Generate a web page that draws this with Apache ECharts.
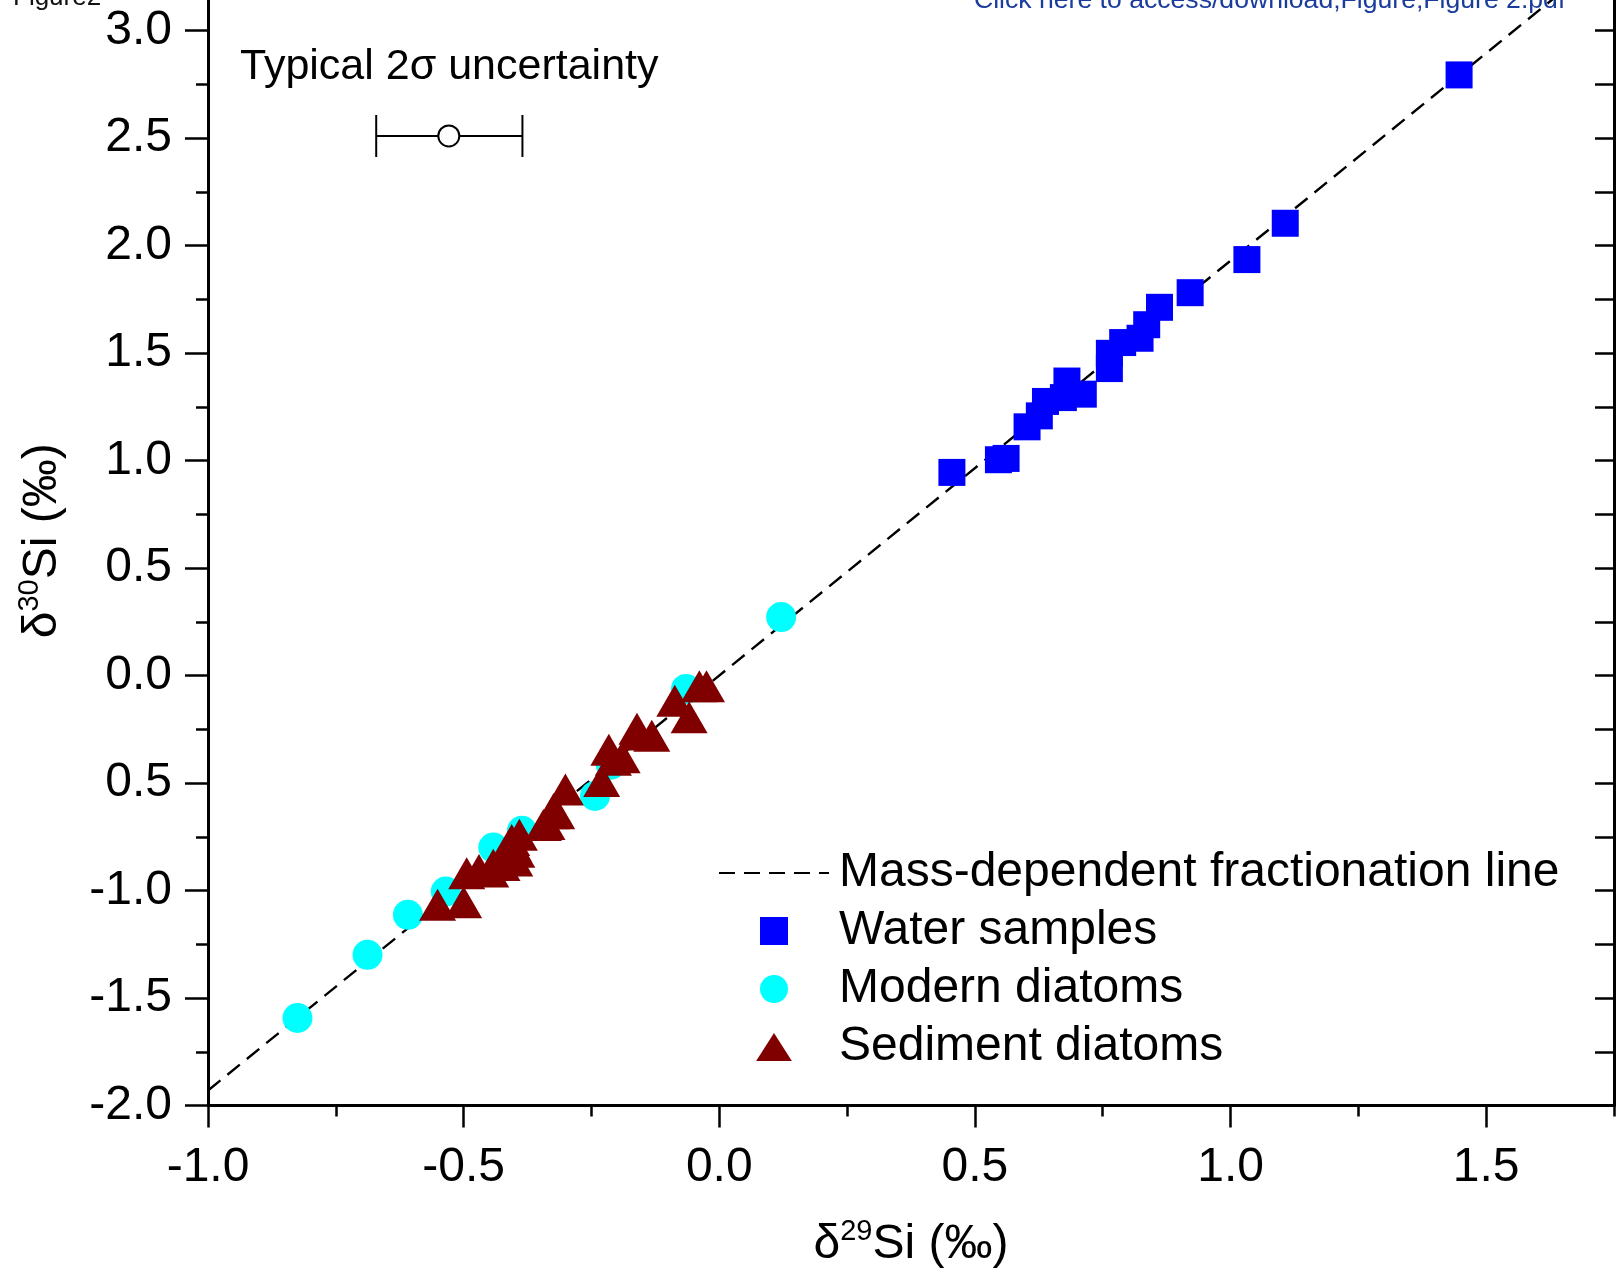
<!DOCTYPE html>
<html>
<head>
<meta charset="utf-8">
<script src="https://cdn.jsdelivr.net/npm/echarts@6/dist/echarts.min.js"></script>
<style>
html,body{margin:0;padding:0;background:#fff;}
#chart{width:1616px;height:1274px;}
</style>
</head>
<body>
<div id="chart"></div>
<script>
// ---- data ----
var waterSamples = [
  [0.455, 0.945], [0.546, 1.004], [0.561, 1.010], [0.602, 1.157], [0.626, 1.208],
  [0.638, 1.275], [0.673, 1.293], [0.680, 1.370], [0.712, 1.309], [0.763, 1.428],
  [0.763, 1.499], [0.789, 1.549], [0.823, 1.569], [0.836, 1.632], [0.861, 1.713],
  [0.921, 1.781], [1.032, 1.935], [1.107, 2.104], [1.447, 2.794]
];
var modernDiatoms = [
  [-0.825, -1.593], [-0.688, -1.299], [-0.609, -1.113], [-0.535, -1.005],
  [-0.442, -0.800], [-0.386, -0.722], [-0.243, -0.560], [-0.212, -0.415],
  [-0.065, -0.062], [0.121, 0.272]
];
var sedimentDiatoms = [
  [-0.551, -1.066], [-0.500, -1.055], [-0.494, -0.920], [-0.470, -0.905],
  [-0.447, -0.912], [-0.442, -0.880], [-0.425, -0.881], [-0.400, -0.860],
  [-0.396, -0.820], [-0.406, -0.765], [-0.391, -0.740], [-0.403, -0.790],
  [-0.344, -0.695], [-0.337, -0.690], [-0.328, -0.641], [-0.318, -0.641],
  [-0.324, -0.621], [-0.301, -0.530], [-0.230, -0.490], [-0.216, -0.345],
  [-0.207, -0.392], [-0.190, -0.380], [-0.161, -0.247], [-0.160, -0.274],
  [-0.132, -0.280], [-0.087, -0.117], [-0.059, -0.194], [-0.039, -0.050],
  [-0.025, -0.050]
];
var fractionationLine = [[-1.0, -1.93], [1.75, 3.3775]];
var uncertainty = [[-0.529, 2.51, -0.671, -0.385]]; // x, y, low, high

var xTickValues = [-1.0, -0.5, 0.0, 0.5, 1.0, 1.5];
var xTickLabels = ['-1.0', '-0.5', '0.0', '0.5', '1.0', '1.5'];
var xMinorValues = [-0.75, -0.25, 0.25, 0.75, 1.25, 1.75];
var yTickValues = [-2.0, -1.5, -1.0, -0.5, 0.0, 0.5, 1.0, 1.5, 2.0, 2.5, 3.0];
var yTickLabels = ['-2.0', '-1.5', '-1.0', '0.5', '0.0', '0.5', '1.0', '1.5', '2.0', '2.5', '3.0'];
var yMinorValues = [-1.75, -1.25, -0.75, -0.25, 0.25, 0.75, 1.25, 1.75, 2.25, 2.75];
var yRightValues = [-2.0, -1.75, -1.5, -1.25, -1.0, -0.75, -0.5, -0.25, 0.0, 0.25, 0.5, 0.75,
  1.0, 1.25, 1.5, 1.75, 2.0, 2.25, 2.5, 2.75, 3.0];

var xMin = -1.0, xMax = 1.75, yMin = -2.0, yMax = 3.1425;

// ---- chart ----
var FONT = "'Liberation Sans', Arial, sans-serif";
function lookup(vals, labels) {
  return function (v) {
    for (var i = 0; i < vals.length; i++) if (Math.abs(vals[i] - v) < 1e-9) return labels[i];
    return '';
  };
}
var chart = echarts.init(document.getElementById('chart'), null, {renderer: 'canvas'});
var axisLineStyle = {color: '#000', width: 3};
var option = {
  animation: false,
  backgroundColor: '#fff',
  grid: {left: 208, right: 2, top: 0, bottom: 166, containLabel: false},
  graphic: [
    {type: 'text', left: 240, top: 46, style: {text: 'Typical 2σ uncertainty', font: '43px ' + FONT, fill: '#000'}},
    {type: 'text', x: 13, y: -2, style: {text: 'Figure2', font: '26px ' + FONT, fill: '#111', verticalAlign: 'middle'}},
    {type: 'text', x: 974, y: 1, style: {text: 'Click here to access/download;Figure;Figure 2.pdf', font: '26.6px ' + FONT, fill: '#1a3c9c', verticalAlign: 'middle'}}
  ],
  legend: {
    orient: 'vertical', left: 713, top: 844,
    itemWidth: 110, itemHeight: 28, itemGap: 10,
    textStyle: {fontSize: 48, color: '#000', fontFamily: FONT, padding: [0, 0, 0, 5]},
    data: [
      {name: 'Mass-dependent fractionation line', itemStyle: {opacity: 0}},
      {name: 'Water samples', icon: 'path://M0,0H27V27H0Z'},
      {name: 'Modern diatoms'},
      {name: 'Sediment diatoms', icon: 'path://M0,29L18.5,0L37,29Z'}
    ]
  },
  xAxis: [
    {
      type: 'value', min: xMin, max: xMax, position: 'bottom',
      axisLine: {show: true, onZero: false, lineStyle: axisLineStyle},
      axisTick: {show: true, inside: false, length: 22, lineStyle: {color: '#000', width: 2.5}, customValues: xTickValues},
      axisLabel: {show: true, customValues: xTickValues, formatter: lookup(xTickValues, xTickLabels),
        fontSize: 48, color: '#000', fontFamily: FONT, margin: 38},
      splitLine: {show: false},
      name: 'δ{sup|29}Si (‰)', nameLocation: 'middle', nameGap: 112,
      nameTextStyle: {fontSize: 48, color: '#000', fontFamily: FONT,
        rich: {sup: {fontSize: 29, fontFamily: FONT, color: '#000', padding: [0, 0, 26, 0]}}}
    },
    {
      type: 'value', min: xMin, max: xMax, position: 'bottom',
      axisLine: {show: false, onZero: false},
      axisTick: {show: true, inside: false, length: 11, lineStyle: {color: '#000', width: 2.5}, customValues: xMinorValues},
      axisLabel: {show: false}, splitLine: {show: false}
    }
  ],
  yAxis: [
    {
      type: 'value', min: yMin, max: yMax, position: 'left',
      axisLine: {show: true, onZero: false, lineStyle: axisLineStyle},
      axisTick: {show: true, inside: false, length: 23, lineStyle: {color: '#000', width: 2.5}, customValues: yTickValues},
      axisLabel: {show: true, customValues: yTickValues, formatter: lookup(yTickValues, yTickLabels),
        fontSize: 48, color: '#000', fontFamily: FONT, margin: 36},
      splitLine: {show: false},
      name: 'δ{sup|30}Si (‰)', nameLocation: 'middle', nameGap: 138, nameRotate: 90,
      nameTextStyle: {fontSize: 48, color: '#000', fontFamily: FONT, padding: [0, 0, 0, 24],
        rich: {sup: {fontSize: 29, fontFamily: FONT, color: '#000', padding: [0, 0, 26, 0]}}}
    },
    {
      type: 'value', min: yMin, max: yMax, position: 'left',
      axisLine: {show: false, onZero: false},
      axisTick: {show: true, inside: false, length: 12, lineStyle: {color: '#000', width: 2.5}, customValues: yMinorValues},
      axisLabel: {show: false}, splitLine: {show: false}
    },
    {
      type: 'value', min: yMin, max: yMax, position: 'right',
      axisLine: {show: true, onZero: false, lineStyle: axisLineStyle},
      axisTick: {show: true, inside: true, length: 19, lineStyle: {color: '#000', width: 2.5}, customValues: yRightValues},
      axisLabel: {show: false}, splitLine: {show: false}
    }
  ],
  series: [
    {
      name: 'Mass-dependent fractionation line', type: 'line', data: fractionationLine,
      symbol: 'none', clip: true, z: 1,
      lineStyle: {color: '#000', width: 2.4, type: [16, 9]},
      itemStyle: {color: '#000'}
    },
    {
      name: 'Water samples', type: 'scatter', data: waterSamples, symbol: 'rect', symbolSize: 27,
      itemStyle: {color: '#0000ff', opacity: 1}, z: 3
    },
    {
      name: 'Modern diatoms', type: 'scatter', data: modernDiatoms, symbol: 'circle', symbolSize: 30,
      itemStyle: {color: '#00ffff', opacity: 1}, z: 3
    },
    {
      name: 'Sediment diatoms', type: 'scatter', data: sedimentDiatoms, symbol: 'triangle', symbolSize: [37, 32],
      itemStyle: {color: '#800000', opacity: 1}, z: 4
    },
    {
      name: 'uncertainty', type: 'custom', data: uncertainty, z: 5,
      renderItem: function (params, api) {
        var c = api.coord([api.value(0), api.value(1)]);
        var lo = api.coord([api.value(2), api.value(1)]);
        var hi = api.coord([api.value(3), api.value(1)]);
        var st = {stroke: '#000', lineWidth: 2, fill: null};
        var capH = 21;
        return {
          type: 'group',
          children: [
            {type: 'line', shape: {x1: lo[0], y1: c[1], x2: c[0] - 10.5, y2: c[1]}, style: st},
            {type: 'line', shape: {x1: c[0] + 10.5, y1: c[1], x2: hi[0], y2: c[1]}, style: st},
            {type: 'line', shape: {x1: lo[0], y1: c[1] - capH, x2: lo[0], y2: c[1] + capH}, style: st},
            {type: 'line', shape: {x1: hi[0], y1: c[1] - capH, x2: hi[0], y2: c[1] + capH}, style: st},
            {type: 'circle', shape: {cx: c[0], cy: c[1], r: 10.5}, style: {stroke: '#000', lineWidth: 2, fill: '#fff'}}
          ]
        };
      }
    }
  ]
};
chart.setOption(option);
</script>
</body>
</html>
